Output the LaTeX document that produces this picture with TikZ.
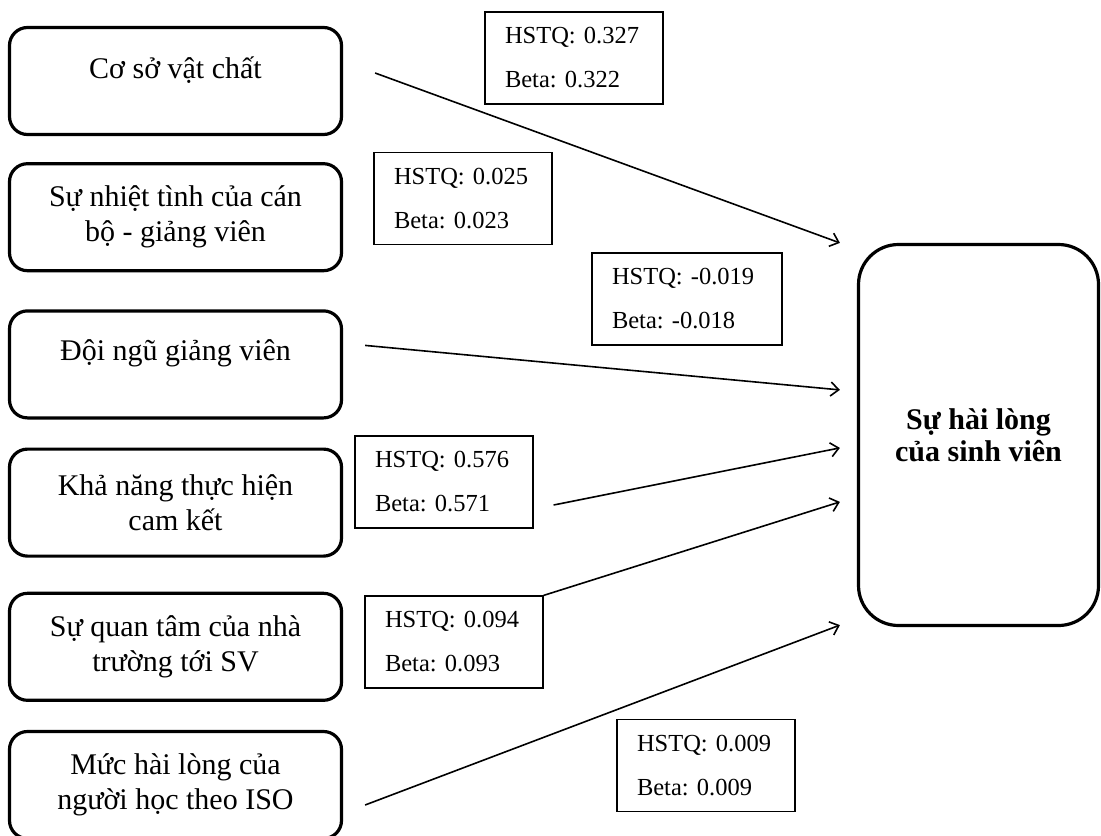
\documentclass[tikz,border=0pt]{standalone}
\usepackage{fontspec}
\setmainfont{Liberation Serif}
\usetikzlibrary{arrows.meta,positioning,calc}
\frenchspacing
\newcommand{\oneline}[1]{\raisebox{5.5pt}[\height][\depth]{#1}}

\begin{document}
\begin{tikzpicture}[x=0.5pt, y=-0.5pt, node distance=14pt,
    factor/.style={draw, line width=1.6pt, rounded corners=9pt, minimum width=166pt, minimum height=53.5pt, align=center, font=\fontsize{15}{17.5}\selectfont},
    coef/.style={draw, line width=0.6pt, text width=69pt, inner xsep=10pt, minimum height=46pt, align=left, font=\fontsize{12.25}{22}\selectfont},
    outcome/.style={draw, line width=1.6pt, rounded corners=20pt, minimum width=120pt, minimum height=190.5pt, align=center, font=\fontsize{15}{16}\selectfont\bfseries},
    link/.style={-{Straight Barb[length=4pt,width=7pt]}, line width=0.8pt}]
  \useasboundingbox (0,0) rectangle (1101,835);

  % factors
  \node[factor] (f1) at (175.5,81) {\oneline{Cơ sở vật chất}};
  \node[factor, below=13pt of f1] (f2) {Sự nhiệt tình của cán\\bộ - giảng viên};
  \node[factor, below=18.5pt of f2] (f3) {\oneline{Đội ngũ giảng viên}};
  \node[factor, below=14pt of f3] (f4) {Khả năng thực hiện\\cam kết};
  \node[factor, below=17pt of f4] (f5) {Sự quan tâm của nhà\\trường tới SV};
  \node[factor, below=14pt of f5] (f6) {Mức hài lòng của\\người học theo ISO};

  % outcome
  \node[outcome] (sat) at (978.5,435) {Sự hài lòng\\của sinh viên};

  % coefficients
  \node[coef] (l1) at (574,58) {HSTQ: 0.327\\Beta: 0.322};
  \node[coef] (l2) at (463,198.5) {HSTQ: 0.025\\Beta: 0.023};
  \node[coef, text width=75pt] (l3) at (687,299) {HSTQ: -0.019\\Beta: -0.018};
  \node[coef] (l4) at (444,482) {HSTQ: 0.576\\Beta: 0.571};
  \node[coef] (l5) at (454,642) {HSTQ: 0.094\\Beta: 0.093};
  \node[coef] (l6) at (706,765.5) {HSTQ: 0.009\\Beta: 0.009};

  % arrow ends
  \coordinate (t1) at ($(sat.north west)+(-17,0)$);
  \coordinate (t2) at ($(sat.north west)+(-17,147)$);
  \coordinate (t3) at ($(sat.north west)+(-17,205)$);
  \coordinate (t4) at ($(sat.north west)+(-17,259)$);
  \coordinate (t5) at ($(sat.south west)+(-17,-2)$);

  \draw[link] ($(f1.east)+(32,-8)$) -- (t1);
  \draw[link] ($(f3.east)+(22,-19)$) -- (t2);
  \draw[link] ($(l4.east)+(20,23)$) -- (t3);
  \draw[link] (l5.north east) -- (t4);
  \draw[link] ($(f6.east)+(22,20)$) -- (t5);
\end{tikzpicture}
\end{document}
